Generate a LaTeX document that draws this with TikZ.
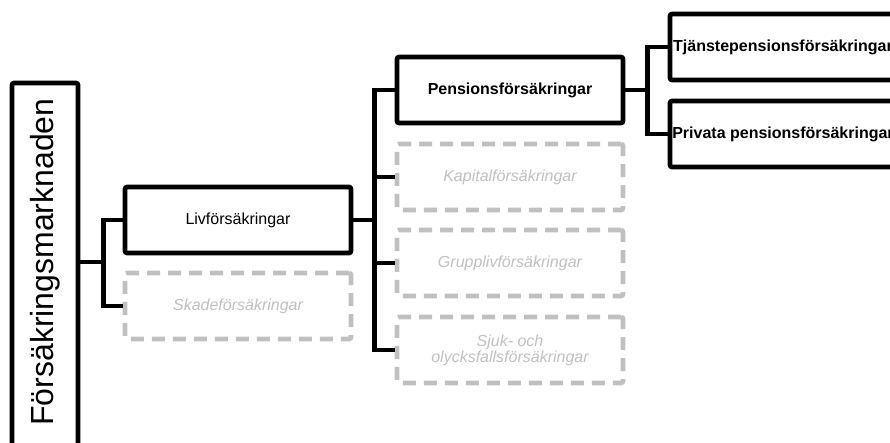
\documentclass[tikz,border=0pt]{standalone}
\usepackage{fontspec}
\setmainfont{Liberation Sans}
\usepackage{tikz}
\definecolor{lightgrey}{HTML}{C0C0C0}

\begin{document}
\begin{tikzpicture}[x=1pt,y=-1pt,
	box/.style={draw,line width=4.6pt,rounded corners=2pt,minimum width=226pt,minimum height=66pt,inner sep=0pt,align=center,font=\fontsize{16}{16}\selectfont},
	inactive/.style={box,draw=lightgrey,text=lightgrey,dash pattern=on 13pt off 8pt,font=\fontsize{16}{16}\selectfont\itshape},
	link/.style={line width=4.6pt}]
\useasboundingbox (0,0) rectangle (890,442);
% market
\node [box,minimum width=66pt,minimum height=380pt,font=\fontsize{32}{32}\selectfont] (root) at (45,273) {\rotatebox{90}{\hspace*{22pt}Försäkringsmarknaden}};
\node [box] (liv) at (238,220) {Livförsäkringar};
\node [inactive] (skade) at (238,306) {Skadeförsäkringar};
% life insurance
\node [box,font=\fontsize{16}{16}\selectfont\bfseries] (pens) at (510,90) {Pensionsförsäkringar};
\node [inactive] (kap) at (510,177) {Kapitalförsäkringar};
\node [inactive] (grupp) at (510,263) {Grupplivförsäkringar};
\node [inactive] (sjuk) at (510,350) {Sjuk- och\\olycksfallsförsäkringar};
% pensions
\node [box,font=\fontsize{16}{16}\selectfont\bfseries] (tjanst) at (783,47) {Tjänstepensionsförsäkringar};
\node [box,font=\fontsize{16}{16}\selectfont\bfseries] (priv) at (783,134) {Privata pensionsförsäkringar};
% links
\draw [link] (root.east |- 0,262) -- ++(23,0) coordinate (r1);
\draw [link] (liv.west) -| (r1) |- (skade.west);
\draw [link] (liv.east) -- ++(21,0) coordinate (r2);
\draw [link] (pens.west) -| (r2) |- (sjuk.west);
\draw [link] (kap.west) -- (kap.west -| r2);
\draw [link] (grupp.west) -- (grupp.west -| r2);
\draw [link] (pens.east) -- ++(22,0) coordinate (r3);
\draw [link] (tjanst.west) -| (r3) |- (priv.west);
\end{tikzpicture}
\end{document}
